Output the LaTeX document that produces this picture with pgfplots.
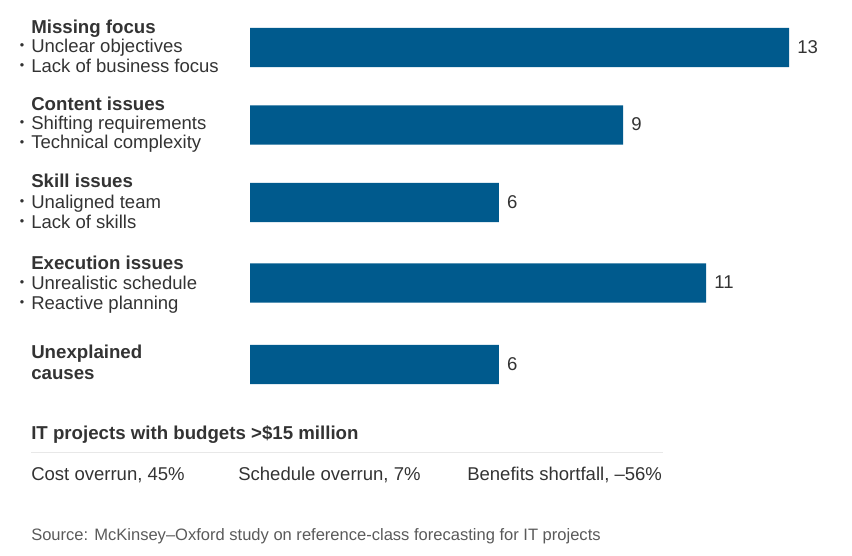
\documentclass[border=0pt]{standalone}
\usepackage{fontspec}
\setmainfont{Liberation Sans}
\usepackage{pgfplots}
\pgfplotsset{compat=1.18}

\definecolor{barblue}{RGB}{0,90,141}
\definecolor{txt}{RGB}{51,51,51}
\definecolor{srcgray}{RGB}{90,90,90}
\definecolor{rulegray}{RGB}{232,232,232}

\newcommand{\reg}{\fontsize{13.9}{16}\selectfont}
\newcommand{\hd}{\fontsize{14}{16}\selectfont\bfseries}

\begin{document}
\begin{tikzpicture}
% axis box = whole picture, 852 x 556 px at 0.75pt per px
\begin{axis}[
  at={(0,0)}, anchor=north west,
  width=639pt, height=417pt, scale only axis,
  xmin=-6.0297, xmax=14.5195,
  ymin=0, ymax=556, y dir=reverse,
  hide axis, clip=false,
  xbar, bar width=29.5pt, bar shift=0pt,
  /pgf/number format/assume math mode=true,
  nodes near coords,
  nodes near coords style={anchor=west, inner sep=0pt, xshift=6pt, yshift=0.5pt,
    font=\reg, text=txt},
]
\addplot[fill=barblue, draw=none] coordinates {
(13,47.5) (9,125) (6,202.5) (11,283) (6,364.5)
};
\end{axis}

\begin{scope}[x=0.75pt, y=-0.75pt, every node/.style={anchor=base west, inner sep=0pt, text=txt}]
  \node[font=\hd] at (31,33.3) {Missing focus};
  \node[font=\reg] at (31,52.5) {Unclear objectives};
  \node[font=\reg] at (31,72.5) {Lack of business focus};
  \node[font=\hd] at (31,110.7) {Content issues};
  \node[font=\reg] at (31,129.5) {Shifting requirements};
  \node[font=\reg] at (31,149) {Technical complexity};
  \node[font=\hd] at (31,187.7) {Skill issues};
  \node[font=\reg] at (31,208) {Unaligned team};
  \node[font=\reg] at (31,228.3) {Lack of skills};
  \node[font=\hd] at (31,269) {Execution issues};
  \node[font=\reg] at (31,289.3) {Unrealistic schedule};
  \node[font=\reg] at (31,309.3) {Reactive planning};
  \node[font=\hd] at (31,358.3) {Unexplained};
  \node[font=\hd] at (31,379) {causes};
  % bullets
  \foreach \yy in {52.5,72.5,129.5,149,208,228.3,289.3,309.3}
    \node[anchor=center, font=\fontsize{9.5}{9.5}\selectfont] at (22,\yy-5.5) {•};
  % footer
  \node[font=\hd] at (31,439.3) {IT projects with budgets >\$15 million};
  \draw[rulegray, line width=0.75pt] (31,452.3) -- (663,452.3);
  \node[font=\reg] at (31,480) {Cost overrun, 45\%};
  \node[font=\reg] at (238,480) {Schedule overrun, 7\%};
  \node[font=\reg] at (467,480) {Benefits shortfall, –56\%};
  \node[font=\fontsize{12.4}{14}\selectfont, text=srcgray] at (31,540) {Source: McKinsey–Oxford study on reference-class forecasting for IT projects};
\end{scope}

\pgfresetboundingbox
\path[use as bounding box] (0,0) rectangle (639pt,-417pt);
\end{tikzpicture}
\end{document}
